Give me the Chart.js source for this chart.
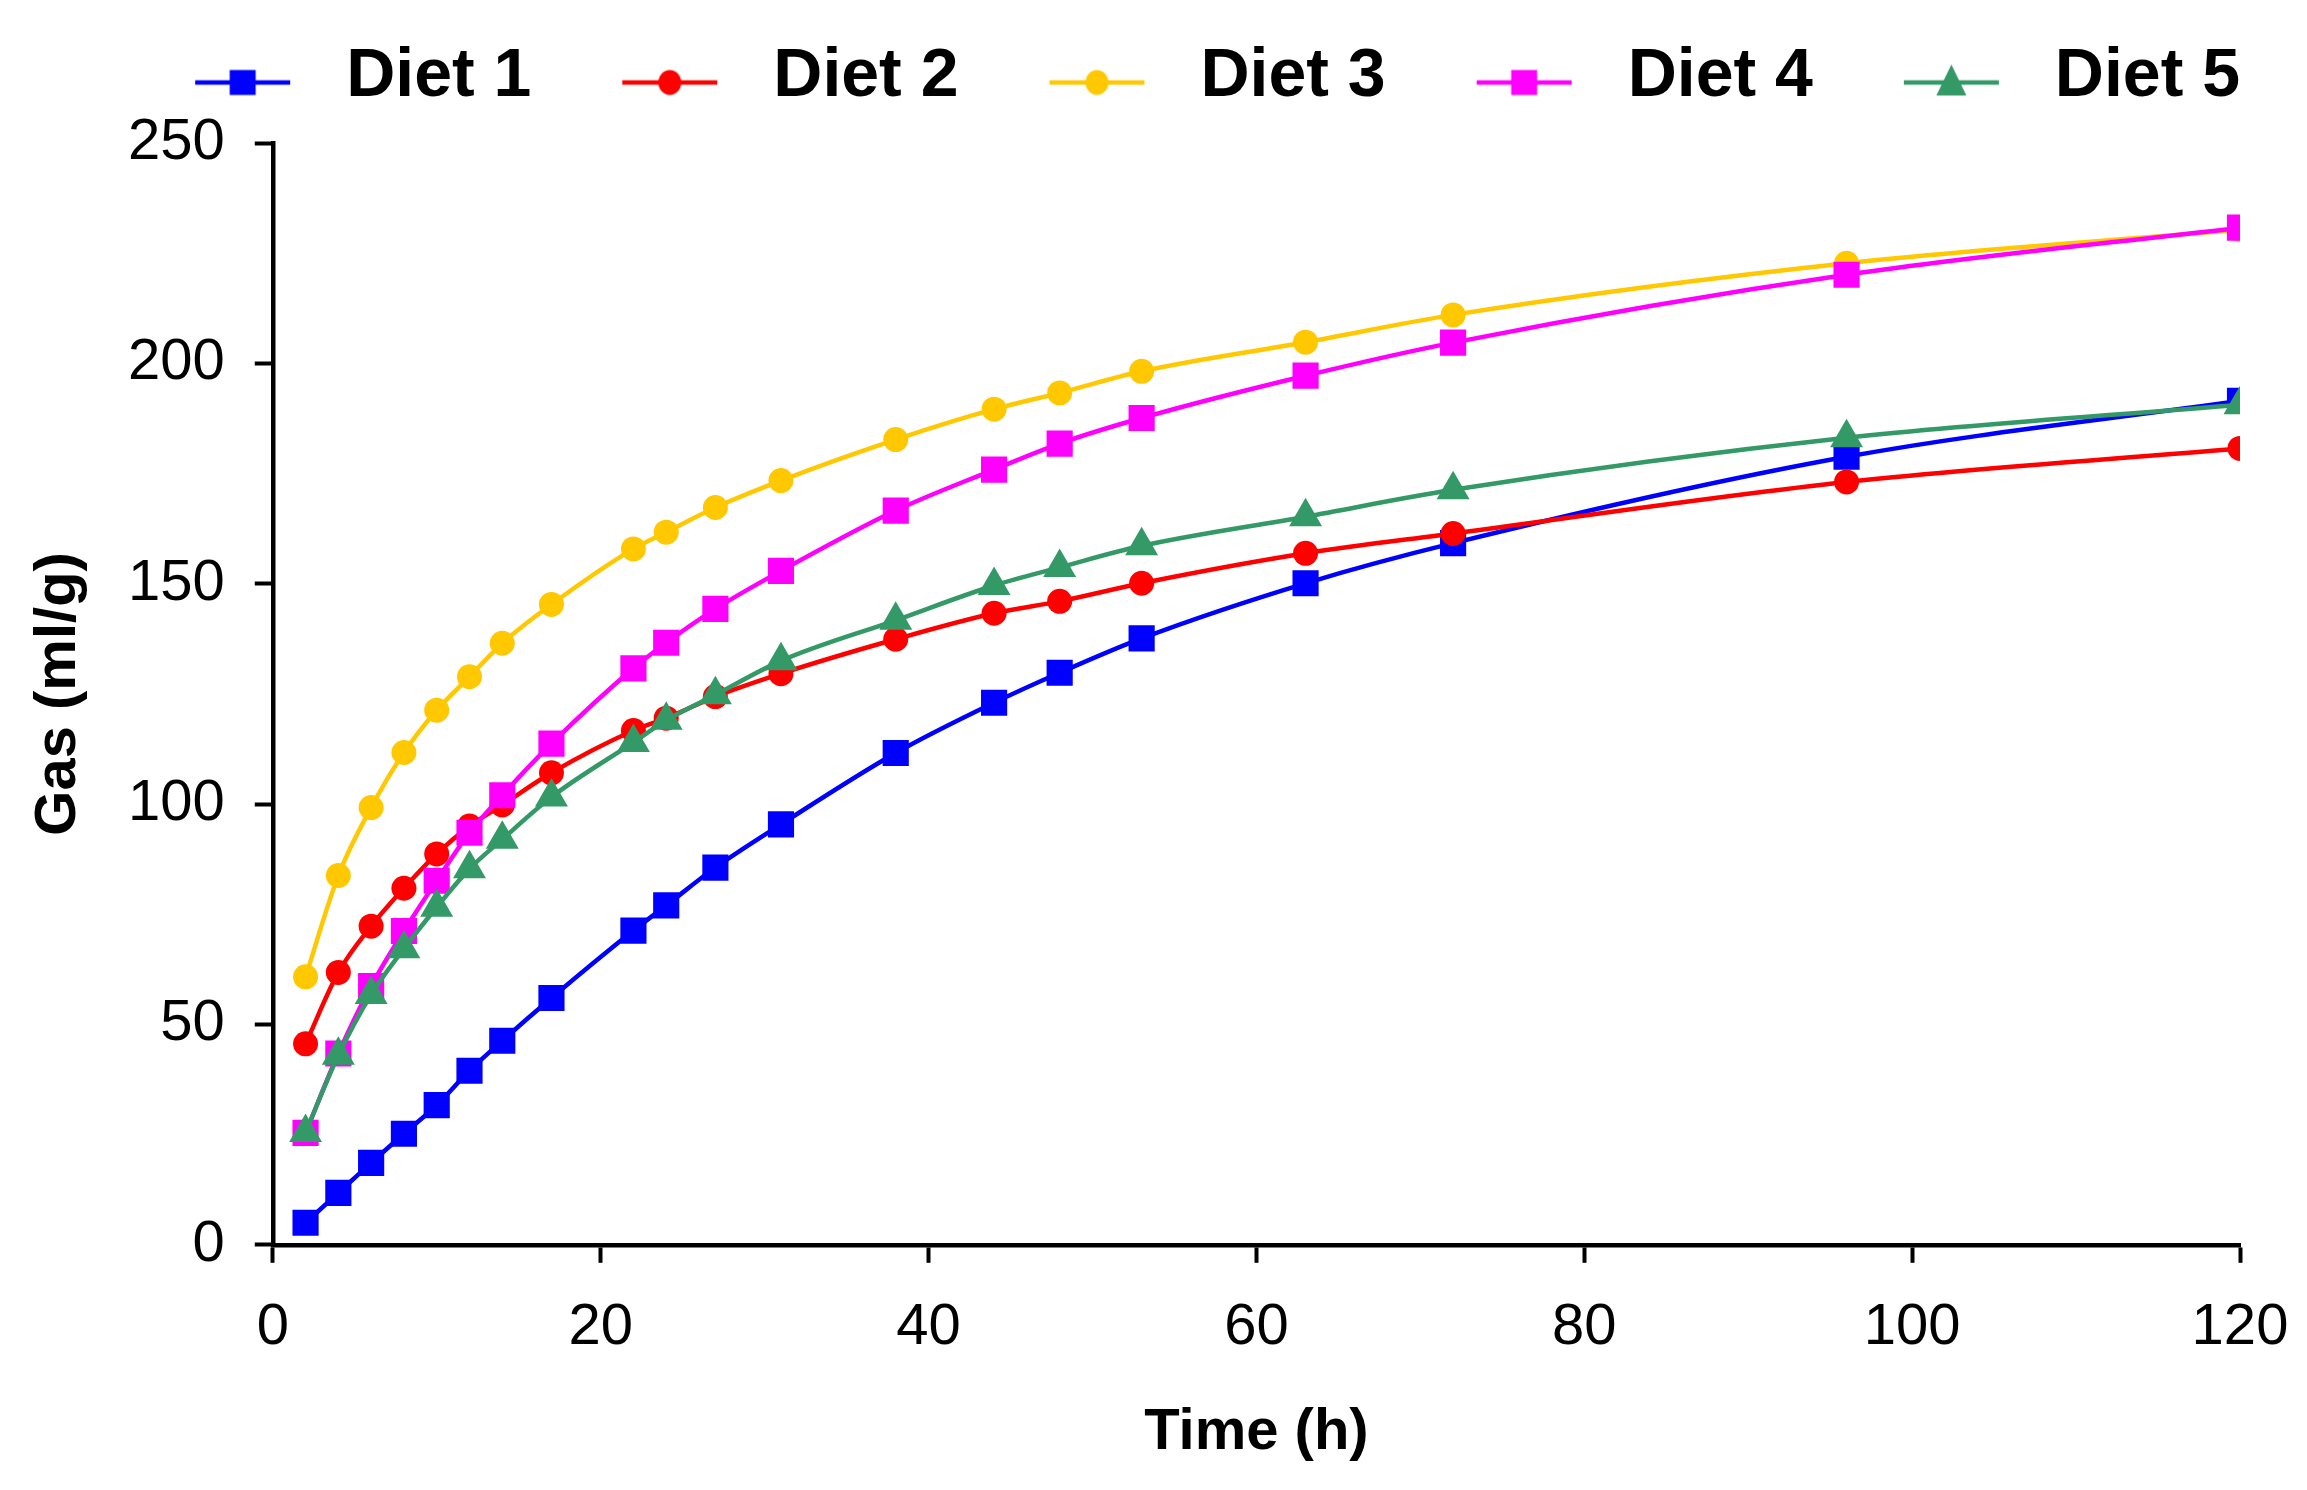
<!DOCTYPE html>
<html>
<head>
<meta charset="utf-8">
<script src="https://cdn.jsdelivr.net/npm/chart.js@4.4.1/dist/chart.umd.min.js"></script>
<style>
  html, body { margin: 0; padding: 0; background: #ffffff; overflow: hidden; }
  #wrap { position: relative; width: 2307px; height: 1490px; }
</style>
</head>
<body>
<div id="wrap"><canvas id="chart"></canvas></div>
<script>
// ---- data ----
const timeHours = [2, 4, 6, 8, 10, 12, 14, 17, 22, 24, 27, 31, 38, 44, 48, 53, 63, 72, 96, 120];
const diet1 = [5.0, 11.8, 18.6, 25.2, 31.7, 39.5, 46.3, 56.0, 71.3, 77.0, 85.6, 95.4, 111.6, 123.0, 129.8, 137.6, 150.1, 159.2, 178.8, 191.5];
const diet2 = [45.6, 61.8, 72.3, 80.9, 88.7, 95.0, 99.8, 107.1, 116.7, 119.5, 124.4, 129.6, 137.4, 143.3, 146.0, 150.1, 156.9, 161.4, 173.1, 180.7];
const diet3 = [60.8, 83.8, 99.2, 111.7, 121.3, 128.9, 136.5, 145.3, 157.9, 161.7, 167.3, 173.4, 182.7, 189.6, 193.3, 198.2, 204.8, 211.0, 222.7, 230.3];
const diet4 = [25.4, 43.4, 58.7, 71.2, 82.6, 93.5, 102.0, 113.7, 130.8, 136.6, 144.3, 152.9, 166.6, 175.9, 181.8, 187.6, 197.2, 204.7, 220.1, 230.8];
const diet5 = [25.5, 43.0, 56.8, 67.2, 76.6, 85.3, 92.0, 101.6, 114.0, 119.0, 124.8, 132.5, 141.7, 149.6, 153.7, 158.6, 165.2, 171.3, 183.1, 190.6];
const seriesNames = ['Diet 1', 'Diet 2', 'Diet 3', 'Diet 4', 'Diet 5'];
const xTickValues = [0, 20, 40, 60, 80, 100, 120];
const yTickValues = [0, 50, 100, 150, 200, 250];
const xTitle = 'Time (h)';
const yTitle = 'Gas (ml/g)';

// ---- styles ----
const seriesValues = [diet1, diet2, diet3, diet4, diet5];
const colors = ['#0000FF', '#FF0000', '#FFC800', '#FF00FF', '#339966'];
const markers = ['rect', 'circle', 'circle', 'rect', 'triangle'];
const markerRadius = { rect: 18.5, circle: 12.5, triangle: 19 };
const FONT = "'Liberation Sans', Arial, Helvetica, sans-serif";
const LEGEND_TOP = 43.5;

// legend icon: short line with the marker in its middle
function makeIcon(color, style) {
  const cv = document.createElement('canvas');
  cv.width = 208; cv.height = 48;
  const g = cv.getContext('2d');
  const y = 29, x0 = 91, x1 = 186, cx = (x0 + x1) / 2;
  g.strokeStyle = color; g.lineWidth = 4.5;
  g.beginPath(); g.moveTo(x0, y); g.lineTo(x1, y); g.stroke();
  g.fillStyle = color;
  g.beginPath();
  if (style === 'rect') {
    g.rect(cx - 13, y - 12.5, 26, 25);
  } else if (style === 'circle') {
    g.ellipse(cx, y, 11.5, 12.5, 0, 0, Math.PI * 2);
  } else {
    g.moveTo(cx, y - 18); g.lineTo(cx + 15, y + 13); g.lineTo(cx - 15, y + 13); g.closePath();
  }
  g.fill();
  return cv;
}
const icons = colors.map((c, i) => makeIcon(c, markers[i]));

const datasets = seriesNames.map((name, i) => ({
  label: name,
  data: timeHours.map((t, k) => ({ x: t, y: seriesValues[i][k] })),
  borderColor: colors[i],
  backgroundColor: colors[i],
  borderWidth: 4.5,
  pointStyle: markers[i],
  pointRadius: markerRadius[markers[i]],
  pointHoverRadius: markerRadius[markers[i]],
  pointBorderWidth: 0,
  pointBackgroundColor: colors[i],
  cubicInterpolationMode: 'monotone',
  fill: false,
  order: seriesNames.length - i
}));

// keep the legend at its own place at the top after the layout is done
const legendPlacer = {
  id: 'legendPlacer',
  afterLayout(chart) {
    const lg = chart.legend;
    if (!lg) return;
    const dy = LEGEND_TOP - lg.top;
    lg.top += dy; lg.bottom += dy;
  }
};

new Chart(document.getElementById('chart'), {
  type: 'line',
  data: { datasets },
  plugins: [legendPlacer],
  options: {
    responsive: true,
    maintainAspectRatio: false,
    devicePixelRatio: 1,
    animation: false,
    layout: { padding: { top: LEGEND_TOP, left: 0, right: 67, bottom: 0 } },
    plugins: {
      tooltip: { enabled: false },
      legend: {
        position: 'top',
        align: 'end',
        labels: {
          usePointStyle: true,
          pointStyleWidth: 208,
          padding: 0,
          color: '#000000',
          font: { family: FONT, size: 68, weight: 'bold' },
          sort: (a, b) => a.datasetIndex - b.datasetIndex,
          generateLabels: (chart) => Chart.defaults.plugins.legend.labels.generateLabels(chart)
            .map(l => Object.assign(l, { pointStyle: icons[l.datasetIndex] }))
        }
      }
    },
    scales: {
      x: {
        type: 'linear',
        min: xTickValues[0],
        max: xTickValues[xTickValues.length - 1],
        afterBuildTicks: (s) => { s.ticks = xTickValues.map(v => ({ value: v })); },
        afterFit: (s) => { s.paddingRight = 48; },
        border: { display: true, color: '#000000', width: 4.5 },
        grid: { display: true, drawOnChartArea: false, drawTicks: true, tickLength: 18, tickWidth: 4, tickColor: '#000000', color: '#000000' },
        ticks: { color: '#000000', padding: 30, maxRotation: 0, font: { family: FONT, size: 58 } },
        title: { display: true, text: xTitle, color: '#000000', padding: { top: 6, bottom: 22 }, font: { family: FONT, size: 58, weight: 'bold' } }
      },
      y: {
        type: 'linear',
        min: yTickValues[0],
        max: yTickValues[yTickValues.length - 1],
        afterBuildTicks: (s) => { s.ticks = yTickValues.map(v => ({ value: v })); },
        afterFit: (s) => { s.paddingTop = 143; },
        border: { display: true, color: '#000000', width: 4.5 },
        grid: { display: true, drawOnChartArea: false, drawTicks: true, tickLength: 18, tickWidth: 4, tickColor: '#000000', color: '#000000' },
        ticks: { color: '#000000', padding: 30, font: { family: FONT, size: 58 } },
        title: { display: true, text: yTitle, color: '#000000', padding: { top: 24, bottom: 4.4 }, font: { family: FONT, size: 58, weight: 'bold' } }
      }
    }
  }
});
</script>
</body>
</html>
